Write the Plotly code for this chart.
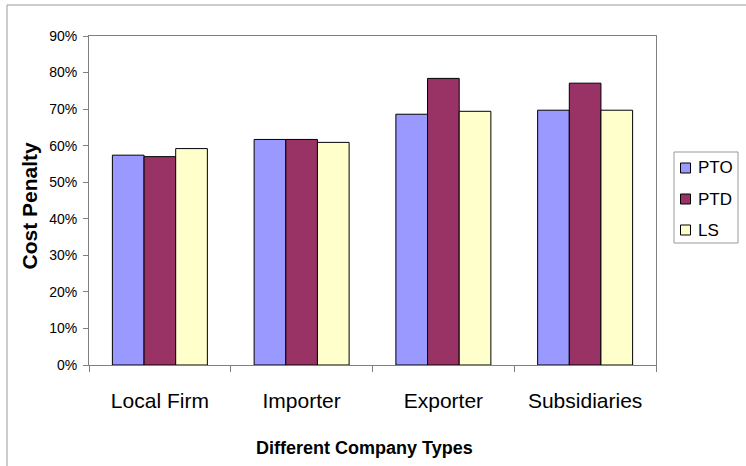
import plotly.graph_objects as go

categories = ["Local Firm", "Importer", "Exporter", "Subsidiaries"]
pto = [0.574, 0.617, 0.686, 0.697]
ptd = [0.570, 0.617, 0.784, 0.771]
ls = [0.592, 0.609, 0.694, 0.697]
series_names = ["PTO", "PTD", "LS"]
series_colors = ["#9999FF", "#993366", "#FFFFCC"]
y_ticks = [0, 0.1, 0.2, 0.3, 0.4, 0.5, 0.6, 0.7, 0.8, 0.9]
y_tick_labels = ["0%", "10%", "20%", "30%", "40%", "50%", "60%", "70%", "80%", "90%"]

W, H = 746, 466
ML, MR, MT, MB = 89, 90, 36, 101
PW, PH = W - ML - MR, H - MT - MB


def px(x):
    return (x - ML) / PW


def py(y):
    return 1 - (y - MT) / PH


fig = go.Figure()
for name, vals, col in zip(series_names, [pto, ptd, ls], series_colors):
    fig.add_trace(go.Bar(x=categories, y=vals, name=name, showlegend=False,
                         marker=dict(color=col, line=dict(color="black", width=1))))

font = "Liberation Sans, Arial, sans-serif"

shapes = [
    dict(type="rect", xref="paper", yref="paper",
         x0=px(7), y0=-1, x1=2, y1=py(5),
         line=dict(color="#999999", width=1), layer="below"),
    dict(type="rect", xref="paper", yref="paper",
         x0=px(674), y0=py(243), x1=px(738), y1=py(152),
         line=dict(color="#999999", width=1), fillcolor="white"),
]
annotations = [
    dict(text="<b>Cost Penalty</b>", textangle=-90, x=px(28.5), y=py(206),
         xanchor="center", yanchor="middle",
         xref="paper", yref="paper", showarrow=False,
         font=dict(size=21, family=font)),
    dict(text="<b>Different Company Types</b>", x=px(364), y=py(448),
         xanchor="center", yanchor="middle",
         xref="paper", yref="paper", showarrow=False,
         font=dict(size=18, family=font)),
]
for i, (name, col) in enumerate(zip(series_names, series_colors)):
    cy = 168 + 31 * i
    shapes.append(dict(type="rect", xref="paper", yref="paper",
                       x0=px(680.5), x1=px(690.5), y0=py(cy + 5), y1=py(cy - 5),
                       fillcolor=col, line=dict(color="black", width=1)))
    annotations.append(dict(text=name, x=px(696), y=py(cy), xanchor="left",
                            yanchor="middle", xref="paper", yref="paper",
                            showarrow=False, font=dict(size=17, family=font)))

fig.update_layout(
    width=W, height=H,
    margin=dict(l=ML, r=MR, t=MT, b=MB, autoexpand=False),
    paper_bgcolor="white", plot_bgcolor="white",
    barmode="group", bargap=0.33, bargroupgap=0,
    font=dict(family=font, color="black"),
    showlegend=False,
    xaxis=dict(showline=True, linecolor="#808080", linewidth=1, mirror=True,
               ticks="outside", ticklen=6, tickcolor="#808080", tickson="boundaries",
               tickfont=dict(size=21, family=font), ticklabelstandoff=17,
               automargin=False),
    yaxis=dict(range=[0, 0.9], tickvals=y_ticks, ticktext=y_tick_labels,
               showline=True, linecolor="#808080", linewidth=1, mirror=True,
               ticks="outside", ticklen=5, tickcolor="#808080",
               showgrid=False, zeroline=False,
               tickfont=dict(size=14, family=font), ticklabelstandoff=3,
               automargin=False),
    annotations=annotations,
    shapes=shapes,
)

fig.write_html("out.html", config={"displayModeBar": False},
               post_script="document.body.style.margin='0';document.body.style.overflow='hidden';")
